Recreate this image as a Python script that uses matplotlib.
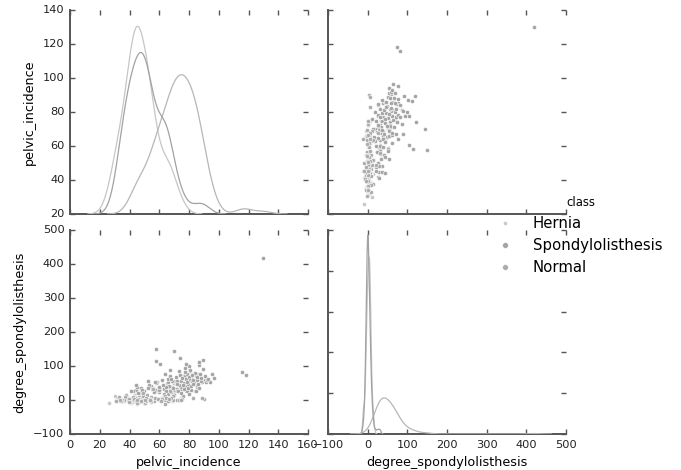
import matplotlib
matplotlib.use("Agg")
import matplotlib.pyplot as plt
from matplotlib.lines import Line2D
import seaborn as sns

# vertebral column measurements, one pair of lists per class
hernia_pi = [63.03, 39.06, 68.83, 69.30, 49.71, 40.25, 53.43, 45.37, 43.79, 36.69,
             49.71, 31.23, 48.92, 53.57, 57.30, 44.32, 63.83, 31.28, 38.70, 41.73,
             43.92, 54.92, 63.07, 45.54, 36.13, 54.12, 26.15, 43.58, 44.55, 66.88,
             50.82, 46.39, 44.94, 38.66, 59.60, 31.48, 32.09, 35.70, 55.84, 52.42,
             35.49, 46.44, 53.85, 66.29, 56.03, 50.91, 48.33, 41.35, 40.56, 41.77,
             55.29, 74.43, 50.21, 30.15, 41.17, 47.66, 43.35, 46.86, 43.20, 48.11]
hernia_ds = [-0.25, 4.56, -3.53, 11.21, 7.92, 2.23, 5.99, -10.68, 13.29, 0.66,
             -7.83, 0.50, 8.03, 7.04, 5.77, 5.42, -0.62, 3.62, 1.43, -1.24,
             6.45, 2.43, 15.78, -4.99, -3.24, 1.57, -10.09, 8.99, 2.65, -2.01,
             10.87, 6.39, 5.57, 2.70, 1.47, 4.39, 6.41, -0.26, 2.81, 1.69,
             -3.46, 2.05, 5.33, -0.80, -2.33, -2.53, 6.48, -4.50, -1.54, 2.06,
             3.56, 5.00, 5.74, 11.46, -9.57, 6.27, 5.75, 1.66, -2.92, 7.95]

spondy_pi = [74.38, 89.68, 44.53, 77.69, 76.15, 83.93, 78.49, 75.65, 72.08, 58.60,
             72.56, 86.90, 84.97, 55.51, 72.22, 70.22, 86.75, 58.78, 67.41, 47.74,
             77.11, 74.01, 88.62, 81.10, 76.33, 45.44, 59.79, 44.91, 56.61, 71.19,
             81.66, 70.95, 85.35, 58.10, 94.17, 57.52, 96.66, 74.72, 77.66, 58.52,
             84.59, 79.94, 70.40, 49.78, 77.41, 65.01, 65.01, 78.43, 63.17, 68.61,
             63.90, 85.00, 42.02, 69.76, 80.99, 129.83, 70.48, 86.04, 65.54, 60.75,
             54.74, 83.88, 80.07, 65.67, 74.72, 48.06, 70.68, 80.43, 90.51, 77.24,
             50.07, 69.78, 69.63, 81.75, 79.47, 88.02, 83.40, 79.25, 91.47, 118.14,
             115.92, 92.03, 85.10, 69.56, 77.12, 72.05, 89.50, 85.29, 60.63, 60.04,
             85.64, 85.58, 55.08, 65.76, 81.11, 48.03, 63.40, 57.29, 41.19, 66.80,
             44.22, 57.04, 64.27, 72.64, 52.20, 87.68, 48.26, 68.72, 95.48, 80.11,
             74.09, 74.00, 58.00, 67.00, 62.50, 66.20, 73.40, 76.90, 82.50, 68.00,
             71.90, 79.90, 61.80, 75.30, 83.00, 88.30, 70.10, 64.60, 78.90, 53.40,
             73.20, 87.00, 66.90, 56.50, 76.00, 82.00, 69.20, 91.00, 62.90, 52.60,
             80.70, 74.90, 93.00, 67.90, 85.90, 71.00, 59.60, 77.80, 64.10]
spondy_ds = [56.13, 92.03, 29.11, 26.93, 10.43, 26.59, 27.38, 69.55, 1.01, 28.06,
             32.11, 101.72, 74.33, 34.55, 56.80, 145.38, 110.86, 51.58, 33.16, 21.68,
             70.76, 74.56, 51.81, 65.21, 50.13, 20.32, 22.12, 37.36, 24.02, 27.28,
             30.61, 32.52, 76.02, 50.24, 53.26, 148.75, 64.08, 33.31, 61.21, 30.39,
             25.12, 38.54, 25.54, 25.34, 93.56, 7.02, 49.70, 77.16, 42.61, 39.50,
             41.42, 71.32, 27.34, 51.17, 85.87, 418.54, 56.90, 61.99, 16.38, 31.69,
             40.38, 80.56, 67.73, 53.93, 37.02, 32.84, 52.50, 57.78, 58.82, 39.79,
             26.77, 17.91, 54.82, 55.51, 47.30, 56.77, 49.67, 36.71, 52.62, 74.04,
             81.20, 58.06, 38.03, 29.70, 82.09, 56.43, 118.35, 58.88, 104.86, 30.41,
             42.89, 68.38, 31.77, 39.31, 40.51, 35.00, 31.78, 30.34, 27.66, 41.69,
             42.81, 52.17, 39.41, 25.38, 54.94, 76.73, 28.34, 54.69, 77.28, 100.29,
             73.39, 123.00, 115.50, 88.00, 45.00, 62.30, 44.80, 31.60, 59.40, 23.50,
             48.30, 18.60, 60.20, 64.70, 46.10, 66.00, 14.70, 27.20, 53.40, 44.20,
             86.60, 35.20, 70.30, 22.80, 43.00, 72.40, 36.10, 70.10, 19.00, 33.90,
             88.40, 21.40, 62.00, 60.60, 47.20, 66.90, 38.50, 105.20, 76.10]

normal_pi = [38.51, 54.92, 44.36, 48.32, 45.70, 30.74, 50.91, 38.13, 51.62, 64.31,
             44.49, 54.95, 56.10, 69.40, 89.83, 59.73, 63.96, 61.54, 38.05, 43.44,
             65.61, 53.91, 43.12, 40.68, 37.73, 63.93, 61.82, 62.14, 69.00, 56.45,
             41.65, 51.53, 39.09, 34.65, 63.03, 47.81, 46.64, 49.83, 47.32, 50.75,
             36.16, 40.75, 42.92, 63.79, 72.96, 67.54, 54.75, 50.16, 40.35, 63.62,
             54.14, 74.98, 42.52, 33.79, 54.50, 48.17, 46.37, 52.86, 57.15, 37.14,
             51.31, 42.52, 39.36, 35.88, 43.19, 67.29, 51.33, 65.76, 40.41, 48.80,
             50.09, 64.26, 53.68, 49.00, 59.17, 67.80, 61.73, 33.04, 74.57, 44.43,
             36.42, 51.08, 34.76, 48.90, 46.24, 46.43, 39.66, 45.58, 66.51, 82.91,
             50.68, 89.01, 54.60, 34.38, 45.08, 47.90, 53.94, 61.45, 45.25, 33.84]
normal_ds = [7.99, 2.00, 4.99, -0.91, -3.39, -2.01, -1.06, 6.34, 1.01, 3.12,
             -0.28, -0.63, 31.17, -0.44, 3.04, 3.24, 6.30, 4.82, 3.89, -3.11,
             -4.08, 5.07, 0.97, -2.51, 13.68, -11.06, 1.30, 4.47, 10.83, -1.86,
             -6.05, 13.93, -0.76, -4.08, 7.44, -0.40, 9.06, 1.91, 1.63, 2.29,
             -2.09, 0.67, -3.36, 12.38, 0.81, 25.97, 8.24, -8.29, 0.46, -0.36,
             0.15, 1.59, 0.76, -1.78, -4.41, 5.36, -0.54, 1.86, 5.02, 7.37,
             -2.14, 7.88, 1.90, -1.63, 1.74, 4.96, 1.79, -1.98, -6.17, 10.44,
             3.09, 5.95, 2.74, 0.54, 2.83, 4.87, 3.09, 9.35, 0.60, -3.60,
             0.18, 6.91, -0.46, 19.85, -5.10, 2.45, -4.97, 3.13, 1.52, 6.08,
             -0.21, 6.06, -1.47, -3.37, -8.94, -4.25, -0.42, -2.71, 0.21, -0.20]

classes = ["Hernia", "Spondylolisthesis", "Normal"]
pelvic = {"Hernia": hernia_pi, "Spondylolisthesis": spondy_pi, "Normal": normal_pi}
degree = {"Hernia": hernia_ds, "Spondylolisthesis": spondy_ds, "Normal": normal_ds}

point_colors = {"Hernia": "#c8c8c8", "Spondylolisthesis": "#a4a4a4", "Normal": "#acacac"}
line_colors = {"Hernia": "#c6c6c6", "Spondylolisthesis": "#b6b6b6", "Normal": "#a2a2a2"}
marker_sizes = {"Hernia": 3.0, "Spondylolisthesis": 4.2, "Normal": 4.2}

plt.style.use("classic")
plt.rcParams["font.family"] = ["DejaVu Sans"]

fig = plt.figure(figsize=(6.81, 4.70), dpi=100, facecolor="white")
w, h = 0.3495, 0.434
ax_pp = fig.add_axes([0.1028, 0.5447, w, h])
ax_pd = fig.add_axes([0.4816, 0.5447, w, h], sharey=ax_pp)
ax_dp = fig.add_axes([0.1028, 0.0766, w, h], sharex=ax_pp)
ax_dd = fig.add_axes([0.4816, 0.0766, w, h], sharex=ax_pd)

# diagonal: per-class density curves on hidden twin axes
kde_pp = ax_pp.twinx()
kde_dd = ax_dd.twinx()
for c in classes:
    sns.kdeplot(x=pelvic[c], ax=kde_pp, color=line_colors[c], linewidth=0.9)
    sns.kdeplot(x=degree[c], ax=kde_dd, color=line_colors[c], linewidth=0.9)
for t in (kde_pp, kde_dd):
    t.yaxis.set_visible(False)
    for s in t.spines.values():
        s.set_visible(False)

# off-diagonal scatters
for c in classes:
    ax_pd.scatter(degree[c], pelvic[c], s=9, color=point_colors[c],
                  edgecolors="white", linewidths=0.4, zorder=3)
    ax_dp.scatter(pelvic[c], degree[c], s=9, color=point_colors[c],
                  edgecolors="white", linewidths=0.4, zorder=3)

for ax in (ax_pp, ax_pd, ax_dp, ax_dd):
    ax.spines["top"].set_visible(False)
    ax.spines["right"].set_visible(False)
    for side in ("left", "bottom"):
        ax.spines[side].set_color("#555555")
        ax.spines[side].set_linewidth(1.4)
    ax.xaxis.set_ticks_position("both")
    ax.yaxis.set_ticks_position("both")
    ax.tick_params(direction="in", length=3.5, width=1.0, color="#555555",
                   labelsize=8.2, labelcolor="#222222", pad=4)

ax_pp.tick_params(labelbottom=False)
ax_pd.tick_params(labelbottom=False, labelleft=False)
ax_dd.tick_params(labelleft=False)

ax_pp.set_ylabel("pelvic_incidence", fontsize=9.2)
ax_dp.set_ylabel("degree_spondylolisthesis", fontsize=9.2)
ax_dp.set_xlabel("pelvic_incidence", fontsize=9.2)
ax_dd.set_xlabel("degree_spondylolisthesis", fontsize=9.2)

handles = [Line2D([], [], ls="none", marker="o", ms=marker_sizes[c],
                  mfc=point_colors[c], mec="white", mew=0.4) for c in classes]
fig.legend(handles, classes, title="class", loc="upper left",
           bbox_to_anchor=(0.724, 0.596), frameon=False, fontsize=10.7,
           title_fontsize=8.4, numpoints=1, handlelength=0.8,
           handletextpad=1.48, labelspacing=0.47, borderaxespad=0)

fig.savefig("out.png", dpi=100, facecolor="white")
